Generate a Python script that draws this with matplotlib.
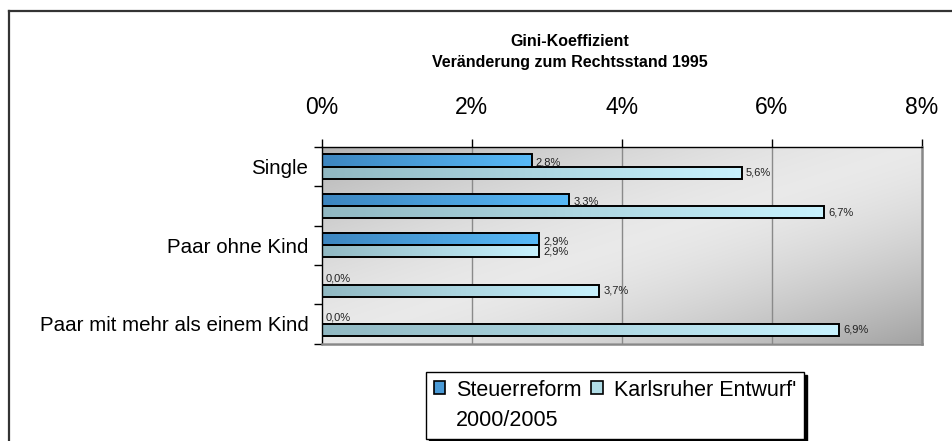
import numpy as np
import matplotlib
matplotlib.use("Agg")
import matplotlib.pyplot as plt
from matplotlib.colors import LinearSegmentedColormap
from matplotlib.patches import Patch
from matplotlib.lines import Line2D

# ---- data ----
categories = ["Single", "", "Paar ohne Kind", "", "Paar mit mehr als einem Kind"]
steuerreform = [2.8, 3.3, 2.9, 0.0, 0.0]
karlsruher = [5.6, 6.7, 2.9, 3.7, 6.9]
series_names = ["Steuerreform", "Karlsruher Entwurf'", "2000/2005"]
xticks = [0, 2, 4, 6, 8]
title_lines = ["Gini-Koeffizient", "Veränderung zum Rechtsstand 1995"]

plt.rcParams['font.family'] = ['Liberation Sans', 'DejaVu Sans']

W, H = 952, 441
fig = plt.figure(figsize=(W / 100, H / 100), dpi=100)
fig.patch.set_facecolor("white")

ax_l, ax_r, ax_t, ax_b = 321.5, 922, 147, 343.5
ax = fig.add_axes([ax_l / W, 1 - ax_b / H, (ax_r - ax_l) / W, (ax_b - ax_t) / H])

# background gradient
ny, nx = 200, 600
u = np.linspace(0, 1, nx)[None, :]
v = np.linspace(0, 1, ny)[:, None]
t = (u + v) / 2
d = np.abs(2 * t - 1) ** 1.5
light = 0.915
dark = np.where(t < 0.5, 0.70, 0.64)
val = light - (light - dark) * d
bg = np.dstack([val, val, val])
ax.imshow(bg, extent=(0, 1, 0, 1), transform=ax.transAxes, aspect='auto', zorder=0, interpolation='bilinear')

n = len(categories)
yc = np.arange(n)
h = 0.31
cm_s = LinearSegmentedColormap.from_list("s", ["#3d86c0", "#58baf8"])
cm_k = LinearSegmentedColormap.from_list("k", ["#90b8c2", "#c8f2fe"])
grad = np.linspace(0, 1, 256).reshape(1, -1)

def fmt(val):
    return f"{val:.1f}%".replace(".", ",")

for i in range(n):
    for vals, cmap, off, dy in ((steuerreform, cm_s, -h / 2, -1.5), (karlsruher, cm_k, h / 2, 0)):
        val_i = vals[i]
        yy = yc[i] + off
        if val_i > 0:
            ax.imshow(grad, cmap=cmap, extent=(0, val_i, yy - h / 2, yy + h / 2),
                      aspect='auto', zorder=2, interpolation='bilinear')
            ax.barh(yy, val_i, height=h, facecolor='none', edgecolor='black', linewidth=1.4, zorder=3)
        ax.annotate(fmt(val_i), (val_i, yy), xytext=(3, dy if val_i > 0 else 0),
                    textcoords='offset points', va='center', ha='left',
                    fontsize=8, color='#222222', zorder=4)

ax.set_xlim(0, 8)
ax.set_ylim(n - 0.5, -0.5)
ax.set_aspect('auto')

# grid
for x in xticks[1:-1]:
    ax.axvline(x, color='#8a8a8a', linewidth=1.0, zorder=1)

# x axis on top
ax.xaxis.tick_top()
ax.set_xticks(xticks)
ax.set_xticklabels([f"{x}%" for x in xticks], fontsize=16.5)
ax.tick_params(axis='x', direction='out', length=6, width=1, color='black', pad=14, top=True, bottom=False)

# y ticks at boundaries, labels at centers
ax.set_yticks(np.arange(n + 1) - 0.5)
ax.set_yticklabels([])
ax.tick_params(axis='y', which='major', direction='out', length=6, width=1, color='black')
ax.set_yticks(yc, minor=True)
ax.set_yticklabels(categories, minor=True, fontsize=14.8)
ax.tick_params(axis='y', which='minor', length=0, pad=9.5)

ax.spines['top'].set_color('black')
ax.spines['left'].set_color('black')
ax.spines['top'].set_linewidth(1)
ax.spines['left'].set_linewidth(1)
for s in ('right', 'bottom'):
    ax.spines[s].set_color('#888888')
    ax.spines[s].set_linewidth(1.8)

# title
fig.text(570 / W, 1 - 42 / H, title_lines[0], ha='center', va='center', fontsize=11.5, fontweight='bold')
fig.text(570 / W, 1 - 63 / H, title_lines[1], ha='center', va='center', fontsize=11.5, fontweight='bold')

# legend
handles = [Patch(facecolor='#4a9ad6', edgecolor='black', linewidth=1.2),
           Patch(facecolor='none', edgecolor='none'),
           Patch(facecolor='#b0dce6', edgecolor='black', linewidth=1.2)]
labels = [series_names[0], series_names[2], series_names[1]]
leg = fig.legend(handles, labels, ncol=2, loc='upper left',
                 bbox_to_anchor=(426 / W, 1 - 372 / H), fontsize=15.5,
                 frameon=True, fancybox=False, edgecolor='black',
                 shadow={'color': 'black', 'alpha': 1},
                 handlelength=0.55, handleheight=0.55, handletextpad=0.5,
                 columnspacing=0.45, borderpad=0.35, labelspacing=0.45,
                 borderaxespad=0)
leg.get_frame().set_linewidth(1)

# figure border lines (left and top)
fig.add_artist(Line2D([8.5 / W, 8.5 / W], [0, 1 - 11 / H], transform=fig.transFigure, color='#333333', linewidth=1.6))
fig.add_artist(Line2D([8.5 / W, 1], [1 - 11 / H, 1 - 11 / H], transform=fig.transFigure, color='#333333', linewidth=1.6))

fig.savefig("out.png", dpi=100)
